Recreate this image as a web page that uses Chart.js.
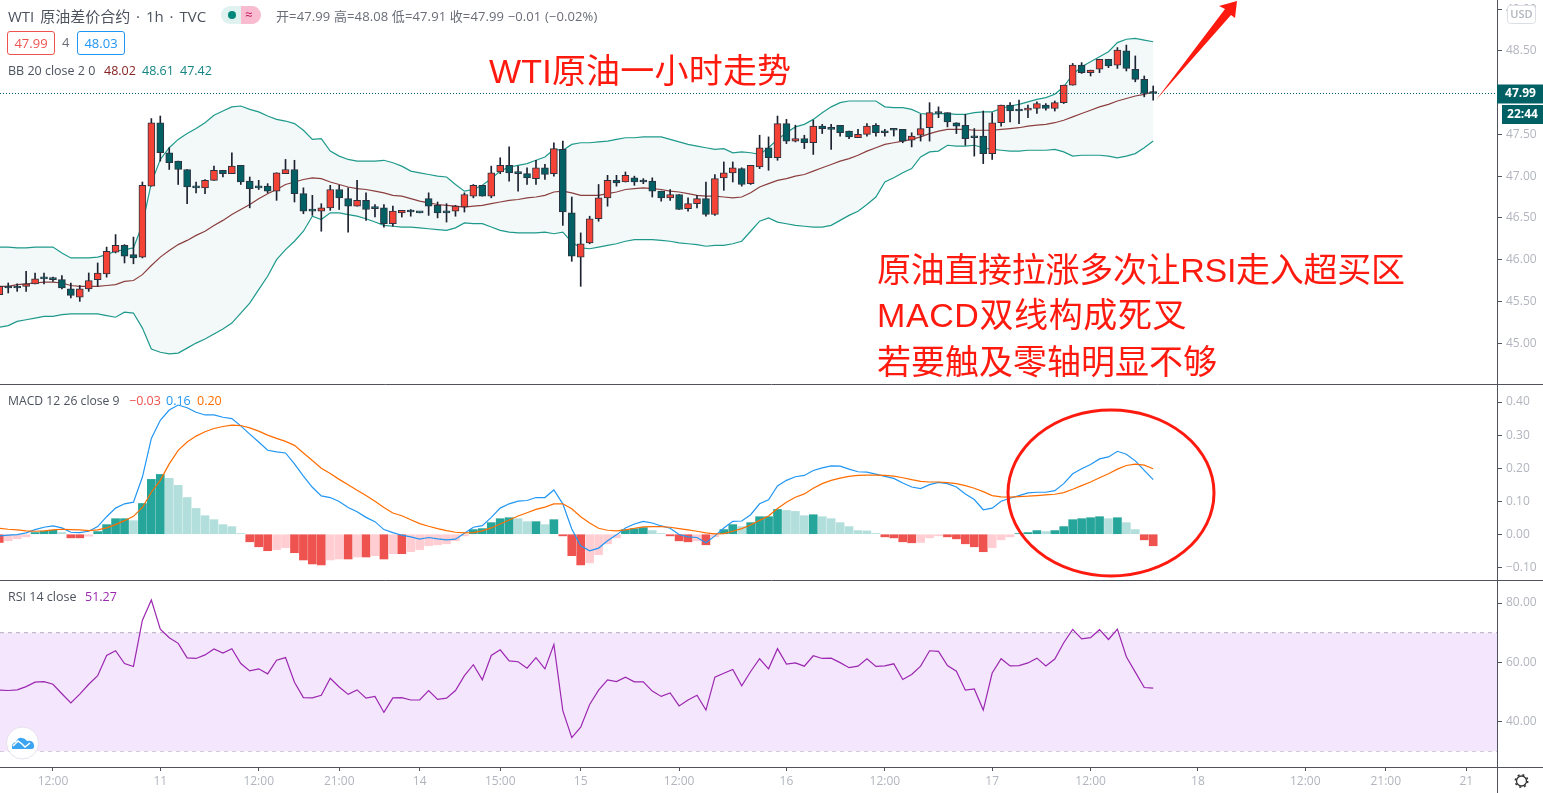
<!DOCTYPE html>
<html>
<head>
<meta charset="utf-8">
<title>WTI 原油差价合约</title>
<script src="https://cdn.jsdelivr.net/npm/chart.js@4/dist/chart.umd.min.js"></script>
<style>
  html, body { margin: 0; padding: 0; background: #fff; overflow: hidden; }
  #wrap { position: relative; width: 1543px; height: 793px; font-family: "Open Sans", "Noto Sans CJK SC", sans-serif; }
  #chart { position: absolute; left: 0; top: 0; }
  .t { position: absolute; white-space: nowrap; line-height: 1; }
  .note { position: absolute; white-space: nowrap; line-height: 1; color: #ff1a0f; font-size: 34px; font-family: "Liberation Sans", "Noto Sans CJK SC", sans-serif; }
  .tag { position: absolute; top: 31px; height: 22px; width: 46px; border: 1px solid; border-radius: 3px; font-size: 13px; line-height: 22px; text-align: center; }
  #overlay { position: absolute; left: 0; top: 0; pointer-events: none; }
</style>
</head>
<body>
<div id="wrap">
  <canvas id="chart" width="1543" height="793"></canvas>
  <svg id="overlay" width="1543" height="793">
    <ellipse cx="1111" cy="493" rx="103" ry="83" fill="none" stroke="#ff1a0f" stroke-width="3"/>
    <polygon points="1156,100 1225,9 1219,6 1237,1 1235,18 1231,15" fill="#ff1a0f"/>
    <circle cx="22.5" cy="743" r="16" fill="#fff" stroke="#e6e0ec" stroke-width="1"/>
    <path d="M12 749 q-1-6 4-7 q2-5 6-4 q3 0 5 3 q6-1 7 4 q1 4-3 4 z" fill="#3ba5f2"/>
    <path d="M13 746 l5-5 4 3 3 3 5-4" fill="none" stroke="#fff" stroke-width="1.5"/>
    <circle cx="1521.5" cy="781" r="5" fill="none" stroke="#333" stroke-width="1.3"/>
    <circle cx="1521.5" cy="781" r="6.2" fill="none" stroke="#333" stroke-width="1.6" stroke-dasharray="2 2.9"/>
  </svg>

  <div class="t" style="left:8px;top:9px;font-size:15px;word-spacing:2px;color:#4c525e">WTI 原油差价合约 · 1h · TVC</div>
  <div style="position:absolute;left:221px;top:6px;width:20px;height:18px;background:#dff2ef;border-radius:9px 0 0 9px"></div>
  <div style="position:absolute;left:241px;top:6px;width:20px;height:18px;background:#f8bbd0;border-radius:0 9px 9px 0"></div>
  <div style="position:absolute;left:228px;top:11px;width:8px;height:8px;background:#00897b;border-radius:50%"></div>
  <div class="t" style="left:245px;top:8px;font-size:13px;color:#c2185b">≈</div>
  <div class="t" style="left:276px;top:10px;font-size:13px;letter-spacing:0.12px;color:#6a6d78">开=47.99 高=48.08 低=47.91 收=47.99 −0.01 (−0.02%)</div>

  <div class="tag" style="left:7px;color:#ef5350;border-color:#ef5350">47.99</div>
  <div class="t" style="left:62px;top:36px;font-size:13px;color:#6a6d78">4</div>
  <div class="tag" style="left:77px;color:#2196f3;border-color:#2196f3">48.03</div>

  <div class="t" style="left:8px;top:65px;font-size:12.5px;color:#4c525e">BB 20 close 2 0</div>
  <div class="t" style="left:104px;top:65px;font-size:12.5px;color:#872323">48.02</div>
  <div class="t" style="left:142px;top:65px;font-size:12.5px;color:#138484">48.61</div>
  <div class="t" style="left:180px;top:65px;font-size:12.5px;color:#138484">47.42</div>

  <div class="t" style="left:8px;top:395px;font-size:12.2px;color:#4c525e">MACD 12 26 close 9</div>
  <div class="t" style="left:129px;top:395px;font-size:12.5px;color:#ef5350">−0.03</div>
  <div class="t" style="left:166px;top:395px;font-size:12.5px;color:#2196f3">0.16</div>
  <div class="t" style="left:197px;top:395px;font-size:12.5px;color:#ff6d00">0.20</div>

  <div class="t" style="left:8px;top:591px;font-size:12.5px;color:#4c525e">RSI 14 close</div>
  <div class="t" style="left:85px;top:591px;font-size:12.5px;color:#9c27b0">51.27</div>

  <div class="note" style="left:489px;top:54px;letter-spacing:0.2px">WTI原油一小时走势</div>
  <div class="note" style="left:877px;top:253px;letter-spacing:-0.3px">原油直接拉涨多次让RSI走入超买区</div>
  <div class="note" style="left:877px;top:298px;letter-spacing:0.6px">MACD双线构成死叉</div>
  <div class="note" style="left:877px;top:345px">若要触及零轴明显不够</div>
</div>

<script>
// OHLC per hourly bar
const opens = [45.58,45.67,45.68,45.68,45.71,45.78,45.78,45.76,45.65,45.55,
  45.65,45.76,45.83,46.09,46.17,46.06,46.03,46.88,47.64,47.28,
  47.18,47.08,46.88,46.86,46.95,47.07,47.03,47.13,46.94,46.88,
  46.88,46.82,47.03,47.08,46.79,46.59,46.58,46.62,46.84,46.73,
  46.64,46.71,46.62,46.62,46.43,46.56,46.58,46.57,46.73,46.65,
  46.58,46.58,46.63,46.76,46.89,46.76,47.05,47.13,47.04,47.03,
  46.97,47.10,47.03,47.32,46.56,46.03,46.20,46.49,46.74,46.95,
  46.93,46.98,46.94,46.94,46.82,46.74,46.78,46.61,46.67,46.73,
  46.54,46.98,47.04,47.09,46.91,47.11,47.34,47.22,47.63,47.42,
  47.45,47.40,47.60,47.57,47.61,47.54,47.46,47.50,47.61,47.54,
  47.56,47.56,47.43,47.49,47.58,47.76,47.76,47.64,47.61,47.47,
  47.48,47.27,47.64,47.85,47.79,47.79,47.81,47.85,47.81,47.88,
  48.09,48.33,48.24,48.28,48.40,48.33,48.50,48.28,48.16,47.99];
const closes = [45.68,45.66,45.66,45.71,45.77,45.77,45.76,45.66,45.57,45.65,
  45.75,45.84,46.10,46.17,46.04,46.02,46.89,47.64,47.28,47.16,
  47.08,46.87,46.86,46.95,47.07,47.03,47.12,46.93,46.85,46.86,
  46.82,47.04,47.08,46.79,46.58,46.58,46.62,46.84,46.74,46.64,
  46.71,46.60,46.61,46.43,46.58,46.59,46.57,46.56,46.64,46.56,
  46.56,46.64,46.78,46.89,46.76,47.04,47.13,47.04,47.03,46.98,
  47.10,47.02,47.33,46.57,46.04,46.19,46.49,46.74,46.95,46.92,
  47.01,46.93,46.93,46.82,46.74,46.78,46.60,46.67,46.73,46.54,
  46.97,47.04,47.10,46.90,47.13,47.34,47.22,47.63,47.42,47.45,
  47.40,47.60,47.57,47.56,47.52,47.47,47.50,47.60,47.52,47.52,
  47.55,47.42,47.48,47.57,47.76,47.75,47.65,47.60,47.45,47.46,
  47.27,47.64,47.85,47.78,47.78,47.81,47.87,47.81,47.88,48.09,
  48.33,48.24,48.27,48.40,48.32,48.51,48.29,48.16,47.99,47.99];
const highs = [45.68,45.72,45.71,45.86,45.84,45.84,45.79,45.81,45.72,45.69,
  45.84,45.96,46.15,46.30,46.18,46.27,46.93,47.69,47.72,47.34,
  47.18,47.08,46.93,46.96,47.12,47.07,47.28,47.13,46.99,46.95,
  46.91,47.04,47.20,47.19,46.86,46.77,46.67,46.89,46.89,46.86,
  46.95,46.80,46.66,46.66,46.64,46.59,46.60,46.57,46.80,46.69,
  46.67,46.65,46.80,46.90,46.89,47.12,47.22,47.35,47.12,47.10,
  47.19,47.14,47.40,47.42,46.75,46.32,46.52,46.90,47.01,47.01,
  47.05,47.00,46.97,46.98,46.82,46.84,46.78,46.74,46.77,46.93,
  47.02,47.17,47.17,47.10,47.13,47.49,47.47,47.72,47.68,47.61,
  47.49,47.67,47.62,47.62,47.61,47.54,47.56,47.63,47.63,47.56,
  47.56,47.56,47.52,47.74,47.88,47.83,47.76,47.64,47.74,47.57,
  47.78,47.76,47.85,47.88,47.91,47.85,47.89,47.87,47.90,48.09,
  48.35,48.36,48.27,48.40,48.40,48.54,48.57,48.44,48.20,48.08];
const lows = [45.58,45.60,45.62,45.62,45.71,45.71,45.74,45.65,45.54,45.50,
  45.62,45.68,45.79,46.08,45.96,45.95,46.02,46.88,47.18,47.08,
  46.90,46.67,46.80,46.79,46.95,46.99,47.03,46.90,46.62,46.84,
  46.80,46.71,47.03,46.69,46.55,46.53,46.34,46.59,46.60,46.33,
  46.64,46.47,46.51,46.39,46.40,46.51,46.52,46.56,46.53,46.50,
  46.45,46.52,46.57,46.74,46.76,46.74,47.03,46.94,46.82,46.90,
  46.90,46.96,47.00,46.41,45.98,45.68,46.19,46.46,46.64,46.88,
  46.93,46.89,46.91,46.75,46.70,46.71,46.60,46.58,46.62,46.52,
  46.53,46.83,46.93,46.88,46.90,47.09,47.07,47.19,47.39,47.41,
  47.33,47.26,47.51,47.32,47.48,47.45,47.46,47.48,47.48,47.48,
  47.48,47.40,47.35,47.42,47.42,47.70,47.59,47.51,47.37,47.24,
  47.15,47.20,47.60,47.65,47.63,47.70,47.75,47.79,47.78,47.87,
  48.09,48.23,48.20,48.24,48.30,48.29,48.26,48.13,47.95,47.91];

// Bollinger bands
const bbUpper = [46.15,46.15,46.14,46.14,46.15,46.15,46.15,46.08,46.02,46.02,
  46.02,46.03,46.06,46.10,46.12,46.14,46.42,46.92,47.20,47.34,
  47.44,47.51,47.57,47.64,47.73,47.78,47.83,47.84,47.80,47.77,
  47.72,47.68,47.66,47.63,47.55,47.44,47.45,47.30,47.24,47.20,
  47.18,47.18,47.18,47.19,47.16,47.12,47.06,47.04,47.02,47.00,
  46.99,46.90,46.82,46.84,46.89,46.97,47.06,47.11,47.13,47.15,
  47.19,47.23,47.32,47.31,47.38,47.40,47.40,47.41,47.42,47.44,
  47.46,47.46,47.47,47.47,47.47,47.44,47.41,47.38,47.36,47.34,
  47.32,47.33,47.28,47.29,47.28,47.26,47.34,47.44,47.52,47.59,
  47.62,47.68,47.76,47.83,47.88,47.90,47.90,47.90,47.90,47.83,
  47.82,47.82,47.80,47.75,47.74,47.75,47.75,47.74,47.74,47.76,
  47.77,47.77,47.81,47.84,47.86,47.89,47.92,47.94,47.98,48.07,
  48.22,48.31,48.37,48.43,48.49,48.60,48.64,48.65,48.63,48.61];
const bbLower = [45.19,45.21,45.26,45.28,45.30,45.32,45.32,45.34,45.35,45.35,
  45.35,45.35,45.33,45.31,45.37,45.36,45.18,44.93,44.89,44.87,
  44.88,44.94,45.00,45.05,45.11,45.17,45.24,45.36,45.48,45.64,
  45.80,46.00,46.12,46.22,46.34,46.52,46.48,46.56,46.56,46.54,
  46.52,46.49,46.45,46.41,46.40,46.39,46.39,46.38,46.37,46.36,
  46.35,46.38,46.44,46.43,46.43,46.39,46.35,46.33,46.32,46.32,
  46.32,46.33,46.31,46.33,46.21,46.14,46.13,46.15,46.17,46.19,
  46.22,46.24,46.24,46.24,46.23,46.22,46.20,46.19,46.18,46.16,
  46.17,46.17,46.19,46.22,46.34,46.46,46.50,46.45,46.43,46.41,
  46.40,46.39,46.39,46.41,46.47,46.53,46.58,46.66,46.75,46.93,
  46.98,47.04,47.09,47.23,47.29,47.30,47.37,47.36,47.36,47.37,
  47.34,47.32,47.31,47.30,47.30,47.31,47.31,47.31,47.32,47.29,
  47.24,47.25,47.25,47.25,47.24,47.22,47.24,47.27,47.34,47.42];
const bbBasis = [45.68,45.68,45.70,45.71,45.72,45.73,45.73,45.72,45.69,45.68,
  45.68,45.68,45.69,45.70,45.74,45.75,45.82,45.93,46.03,46.11,
  46.18,46.23,46.29,46.34,46.41,46.47,46.54,46.60,46.66,46.73,
  46.79,46.84,46.90,46.93,46.96,46.98,46.97,46.93,46.90,46.87,
  46.85,46.84,46.82,46.80,46.77,46.76,46.73,46.70,46.68,46.66,
  46.65,46.64,46.63,46.64,46.65,46.67,46.69,46.71,46.72,46.74,
  46.75,46.77,46.81,46.82,46.80,46.77,46.77,46.77,46.79,46.81,
  46.84,46.85,46.86,46.85,46.84,46.82,46.81,46.79,46.77,46.76,
  46.76,46.75,46.74,46.75,46.80,46.87,46.91,46.95,46.97,47.00,
  47.02,47.06,47.10,47.14,47.18,47.21,47.25,47.30,47.34,47.38,
  47.40,47.42,47.44,47.47,47.51,47.54,47.56,47.56,47.56,47.55,
  47.55,47.55,47.56,47.57,47.58,47.60,47.61,47.62,47.64,47.67,
  47.71,47.75,47.79,47.83,47.86,47.90,47.93,47.96,47.98,48.01];

// MACD 12 26 9
const macdHist = [-0.025,-0.02,-0.014,-0.008,0.005,0.009,0.012,0.005,-0.011,-0.011,
  -0.006,0.008,0.029,0.047,0.047,0.041,0.093,0.166,0.181,0.169,
  0.148,0.111,0.078,0.056,0.044,0.029,0.023,0.002,-0.023,-0.038,
  -0.05,-0.047,-0.041,-0.056,-0.078,-0.09,-0.093,-0.078,-0.075,-0.075,
  -0.069,-0.069,-0.065,-0.075,-0.059,-0.059,-0.053,-0.047,-0.035,-0.032,
  -0.029,-0.02,-0.005,0.014,0.017,0.035,0.047,0.05,0.047,0.038,
  0.038,0.029,0.044,-0.005,-0.065,-0.093,-0.087,-0.062,-0.029,-0.011,
  0.014,0.017,0.02,0.011,0.002,-0.005,-0.02,-0.023,-0.02,-0.032,
  -0.008,0.014,0.029,0.023,0.035,0.053,0.053,0.075,0.072,0.069,
  0.056,0.059,0.053,0.047,0.035,0.023,0.011,0.01,0.002,-0.008,
  -0.011,-0.023,-0.026,-0.025,-0.011,-0.005,-0.008,-0.014,-0.029,-0.038,
  -0.053,-0.041,-0.017,-0.008,0.002,0.005,0.011,0.008,0.011,0.023,
  0.044,0.047,0.05,0.053,0.047,0.05,0.035,0.014,-0.017,-0.035];
const macdLine = [-0.005,-0.003,-0.001,0.004,0.014,0.021,0.025,0.019,0.006,0.005,
  0.009,0.023,0.053,0.079,0.092,0.097,0.173,0.29,0.345,0.376,
  0.391,0.383,0.369,0.361,0.361,0.354,0.35,0.328,0.303,0.279,
  0.254,0.249,0.246,0.213,0.176,0.142,0.116,0.111,0.099,0.081,
  0.068,0.051,0.038,0.014,0.005,-0.003,-0.008,-0.015,-0.01,-0.014,
  -0.017,-0.015,0.003,0.021,0.026,0.051,0.079,0.092,0.1,0.102,
  0.111,0.111,0.134,0.092,0.016,-0.035,-0.05,-0.042,-0.02,-0.002,
  0.019,0.031,0.039,0.034,0.025,0.018,-0.001,-0.008,-0.01,-0.026,
  -0.005,0.019,0.039,0.04,0.059,0.092,0.104,0.146,0.163,0.174,
  0.178,0.193,0.201,0.207,0.206,0.197,0.189,0.188,0.182,0.175,
  0.169,0.155,0.143,0.138,0.15,0.157,0.153,0.143,0.122,0.105,
  0.074,0.079,0.1,0.109,0.117,0.125,0.127,0.127,0.132,0.153,
  0.183,0.198,0.211,0.228,0.234,0.251,0.242,0.222,0.193,0.165];
const macdSignal = [0.018,0.015,0.013,0.01,0.009,0.01,0.013,0.015,0.014,0.013,
  0.011,0.013,0.019,0.029,0.041,0.054,0.081,0.127,0.163,0.213,
  0.254,0.279,0.297,0.31,0.32,0.326,0.33,0.329,0.322,0.312,
  0.3,0.29,0.281,0.269,0.246,0.223,0.2,0.184,0.166,0.15,
  0.133,0.117,0.1,0.081,0.064,0.056,0.044,0.032,0.024,0.017,
  0.011,0.006,0.004,0.005,0.01,0.019,0.031,0.043,0.055,0.065,
  0.075,0.082,0.092,0.092,0.077,0.053,0.034,0.018,0.012,0.01,
  0.013,0.018,0.022,0.023,0.023,0.021,0.017,0.013,0.009,0.004,
  0.001,0.002,0.009,0.017,0.028,0.042,0.055,0.078,0.097,0.112,
  0.122,0.139,0.153,0.163,0.17,0.175,0.178,0.179,0.179,0.178,
  0.176,0.171,0.165,0.16,0.158,0.158,0.156,0.153,0.147,0.139,
  0.129,0.117,0.113,0.112,0.114,0.115,0.117,0.119,0.121,0.126,
  0.136,0.147,0.158,0.171,0.183,0.197,0.208,0.212,0.209,0.198];

// RSI 14
const rsiValues = [50.6,50.5,50.7,51.8,53.3,53.5,52.6,49.4,46.3,49.3,
  52.6,55.5,62.3,63.9,59.6,58.6,74.2,81.0,71.2,68.3,
  66.4,61.5,61.3,62.5,64.5,63.1,64.6,59.6,57.1,57.8,
  56.1,60.7,61.6,53.3,48.1,48.0,48.9,54.6,51.7,49.2,
  50.7,47.9,48.5,43.1,48.0,48.1,47.3,47.3,50.5,47.5,
  47.9,50.5,55.5,59.2,54.1,62.3,64.2,60.5,60.2,58.0,
  61.6,57.8,66.0,43.7,34.6,38.1,45.8,50.6,54.1,53.5,
  55.0,53.4,53.4,50.3,48.5,49.7,45.3,47.3,48.9,43.9,
  55.0,56.3,57.6,52.1,56.9,61.2,57.8,64.6,59.4,59.8,
  58.7,62.2,61.3,61.4,59.9,58.2,58.7,61.2,58.6,58.8,
  59.5,54.2,55.9,58.7,63.9,63.7,58.9,57.0,50.6,51.0,
  43.9,56.4,61.2,58.8,58.9,59.8,61.4,58.8,61.1,66.6,
  71.1,67.9,68.3,71.0,67.7,71.2,61.9,56.7,51.5,51.27];
const rsiBand = [70, 30];

const lastPrice = 47.99;
const countdown = '22:44';

// axis ticks
const xTickBars = [6, 18, 29, 38, 47, 56, 65, 76, 88, 99, 111, 122, 134, 146, 155, 164];
const xTickLabels = ['12:00', '11', '12:00', '21:00', '14', '15:00', '15', '12:00', '16', '12:00', '17', '12:00', '18', '12:00', '21:00', '21'];
const priceTicks = [45, 45.5, 46, 46.5, 47, 47.5, 48, 48.5, 49];
const macdTicks = [-0.1, 0, 0.1, 0.2, 0.3, 0.4];
const rsiTicks = [40, 60, 80];

// visible ranges, one hour is 8.945px
const xMin = 0.08;
const xMax = xMin + 1497 / 8.945;

const RED = '#f44336', TEAL = '#006064', OUTLINE = '#2b3340', WICK = '#1c2230';
const AXIS = '#50535e', LABEL = '#b2b5be';

const bars = opens.map((o, i) => i);
const toLine = (arr) => arr.map((v, i) => ({ x: bars[i], y: v }));
const candleColors = closes.map((c, i) => c > opens[i] ? RED : TEAL);
const histColors = macdHist.map((v, i) => {
  const prev = i ? macdHist[i - 1] : 0;
  if (v >= 0) return v >= prev ? '#26a69a' : '#b2dfdb';
  return v <= prev ? '#ef5350' : '#ffcdd2';
});

function line(yAxisID, data, color, order, extra) {
  return Object.assign({ type: 'line', yAxisID, data, borderColor: color, borderWidth: 1.2, pointRadius: 0, tension: 0, fill: false, order }, extra || {});
}

// the top and bottom labels must not push the panes in
function noPadding(s) {
  s.paddingTop = 0;
  s.paddingBottom = 0;
  s.paddingLeft = 0;
  s.paddingRight = 0;
}

function yAxis(stackWeight, min, max, ticksList, fmt) {
  return {
    position: 'right', stack: 'panes', stackWeight, min, max,
    afterFit(s) { s.width = 46; noPadding(s); },
    afterBuildTicks(s) { s.ticks = ticksList.map(v => ({ value: v })); },
    grid: { drawOnChartArea: false, tickLength: 5, color: AXIS },
    border: { color: AXIS },
    ticks: { color: LABEL, padding: 4, autoSkip: false, font: { family: 'Open Sans', size: 12 }, callback: fmt }
  };
}
const fmt2 = (v) => v.toFixed(2).replace('-', '−');

// separators and the tags on the price axis
const paneDecor = {
  id: 'paneDecor',
  afterDraw(chart) {
    const { ctx, scales } = chart;
    ctx.save();
    ctx.strokeStyle = AXIS;
    ctx.lineWidth = 1;
    [scales.yPrice.bottom, scales.yMacd.bottom, scales.yRsi.bottom].forEach((y) => {
      ctx.beginPath();
      ctx.moveTo(0, Math.round(y) + 0.5);
      ctx.lineTo(chart.width, Math.round(y) + 0.5);
      ctx.stroke();
    });
    ctx.beginPath();
    ctx.moveTo(chart.chartArea.right + 0.5, 0);
    ctx.lineTo(chart.chartArea.right + 0.5, chart.height);
    ctx.stroke();

    // USD box sits over the clipped top label
    ctx.fillStyle = '#fff';
    ctx.strokeStyle = '#dcdee5';
    ctx.beginPath();
    ctx.roundRect(1507.5, 5.5, 28, 18, 3);
    ctx.fill();
    ctx.stroke();
    ctx.fillStyle = LABEL;
    ctx.font = '600 11px "Open Sans"';
    ctx.textAlign = 'center';
    ctx.textBaseline = 'middle';
    ctx.fillText('USD', 1521.5, 15);

    const py = scales.yPrice.getPixelForValue(lastPrice);
    ctx.fillStyle = TEAL;
    ctx.fillRect(1497, py - 9, 46, 19);
    ctx.fillRect(1502, py + 11.5, 41, 19);
    ctx.fillStyle = '#fff';
    ctx.font = '700 12px "Open Sans"';
    ctx.fillText(lastPrice.toFixed(2), 1520.5, py + 0.5);
    ctx.fillText(countdown, 1522.5, py + 21);
    ctx.restore();
  }
};

new Chart(document.getElementById('chart'), {
  type: 'bar',
  plugins: [paneDecor],
  data: {
    datasets: [
      // price pane
      line('yPrice', toLine(bbUpper), '#1f9a8c', 12, { fill: '+1', backgroundColor: 'rgba(19,132,132,0.05)' }),
      line('yPrice', toLine(bbLower), '#1f9a8c', 12),
      line('yPrice', toLine(bbBasis), '#8c3f3f', 11),
      { yAxisID: 'yPrice', data: bars.map(i => ({ x: i, y: [lows[i], highs[i]] })), backgroundColor: WICK, maxBarThickness: 1, order: 6, grouped: false, barPercentage: 1, categoryPercentage: 1 },
      { yAxisID: 'yPrice', data: bars.map(i => ({ x: i, y: [opens[i], closes[i]] })), backgroundColor: candleColors, borderColor: OUTLINE, borderWidth: 1, borderSkipped: false, minBarLength: 2, maxBarThickness: 7, order: 5, grouped: false, barPercentage: 1, categoryPercentage: 1 },
      line('yPrice', [{ x: xMin, y: lastPrice }, { x: xMax, y: lastPrice }], '#00606a', 1, { borderWidth: 1, borderDash: [1, 2] }),
      // MACD pane
      { yAxisID: 'yMacd', data: toLine(macdHist), backgroundColor: histColors, maxBarThickness: 8, order: 9, grouped: false, barPercentage: 1, categoryPercentage: 1 },
      line('yMacd', toLine(macdLine), '#2196f3', 3),
      line('yMacd', toLine(macdSignal), '#ff6d00', 2),
      // RSI pane
      line('yRsi', [{ x: xMin, y: rsiBand[0] }, { x: xMax, y: rsiBand[0] }], '#b9aec4', 8, { borderWidth: 1, borderDash: [4, 4], fill: '+1', backgroundColor: '#f4e6fd' }),
      line('yRsi', [{ x: xMin, y: rsiBand[1] }, { x: xMax, y: rsiBand[1] }], '#b9aec4', 8, { borderWidth: 1, borderDash: [4, 4] }),
      line('yRsi', toLine(rsiValues), '#9c27b0', 4)
    ]
  },
  options: {
    responsive: false,
    animation: false,
    devicePixelRatio: 1,
    layout: { padding: 0 },
    plugins: { legend: { display: false }, tooltip: { enabled: false }, title: { display: false } },
    scales: {
      x: {
        type: 'linear', position: 'bottom', min: xMin, max: xMax, offset: false,
        afterFit(s) { s.height = 26; noPadding(s); },
        afterBuildTicks(s) { s.ticks = xTickBars.map(v => ({ value: v })); },
        grid: { drawOnChartArea: false, offset: false, tickLength: 4, color: AXIS },
        border: { color: AXIS },
        ticks: {
          color: LABEL, autoSkip: false, maxRotation: 0, padding: 3,
          font: { family: 'Open Sans', size: 12 },
          callback: (v, i) => xTickLabels[i]
        }
      },
      yPrice: yAxis(384, 44.51, 49.11, priceTicks, fmt2),
      yMacd: yAxis(196, -0.1386, 0.4547, macdTicks, fmt2),
      yRsi: yAxis(187, 24.7, 87.76, rsiTicks, fmt2)
    }
  }
});
</script>
</body>
</html>
